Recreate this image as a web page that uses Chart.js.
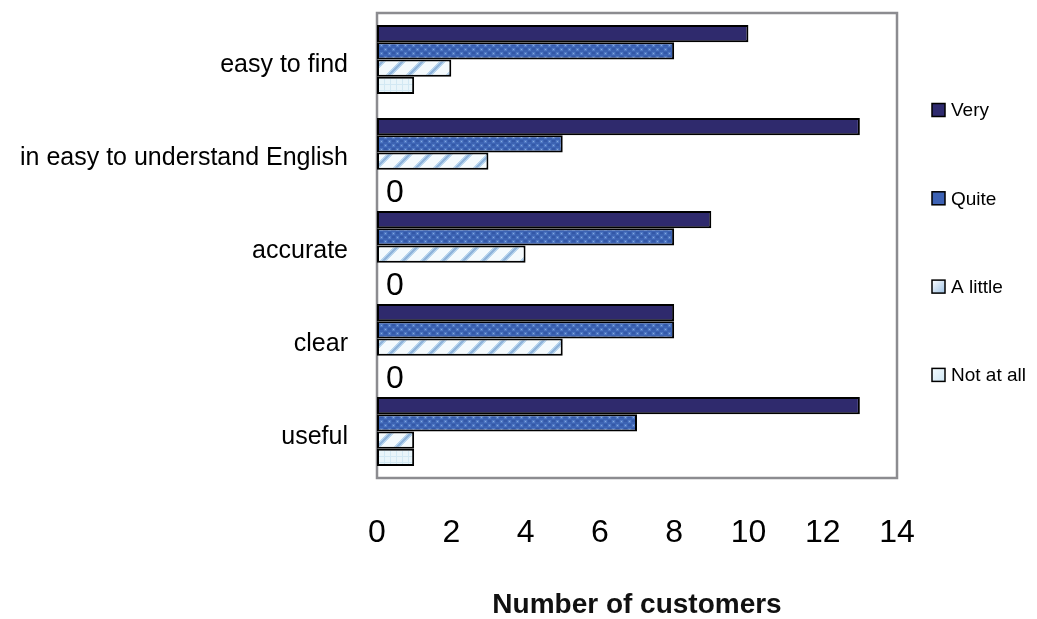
<!DOCTYPE html>
<html>
<head>
<meta charset="utf-8">
<title>Number of customers</title>
<script src="https://cdn.jsdelivr.net/npm/chart.js@4"></script>
<style>
  html, body { margin: 0; padding: 0; background: #ffffff; }
  #wrap { width: 1037px; height: 619px; position: relative; }
</style>
</head>
<body>
<div id="wrap"><canvas id="chart" width="1037" height="619"></canvas></div>
<script>
// Survey answers per statement
const categories = ['easy to find', 'in easy to understand English', 'accurate', 'clear', 'useful'];
const seriesNames = ['Very', 'Quite', 'A little', 'Not at all'];
const veryValues = [10, 13, 9, 8, 13];
const quiteValues = [8, 5, 8, 8, 7];
const littleValues = [2, 3, 4, 5, 1];
const notAtAllValues = [1, 0, 0, 0, 1];
const xTickMin = 0;
const xTickMax = 14;
const xTickStep = 2;

const FONT = "'Liberation Sans', Arial, sans-serif";

// Small repeating tiles used as bar fills
function makePattern(w, h, paint) {
  const c = document.createElement('canvas');
  c.width = w; c.height = h;
  const g = c.getContext('2d');
  paint(g, w, h);
  return g.createPattern(c, 'repeat');
}

const veryFill = '#2f2a6d';
const quiteFill = makePattern(8, 8, (g) => {
  g.fillStyle = '#3c63b3'; g.fillRect(0, 0, 8, 8);
  g.fillStyle = '#5079c4'; g.fillRect(0, 0, 3, 3); g.fillRect(4, 4, 3, 3);
  g.fillStyle = '#86a9e0'; g.fillRect(1, 1, 1, 1); g.fillRect(5, 5, 1, 1);
  g.fillStyle = '#3459a8'; g.fillRect(4, 0, 3, 2); g.fillRect(0, 4, 3, 2);
});
const littleFill = makePattern(20, 20, (g) => {
  g.fillStyle = '#f4fafd'; g.fillRect(0, 0, 20, 20);
  for (let y = 0; y < 20; y++) {
    for (let x = 0; x < 20; x++) {
      const d = (x + y) % 20;
      if (d < 7) {
        g.fillStyle = (d >= 2 && d <= 4) ? '#8fb3da' : '#b9d6ee';
        g.fillRect(x, y, 1, 1);
      }
    }
  }
});
const notAtAllFill = makePattern(6, 6, (g) => {
  g.fillStyle = '#e9f5fa'; g.fillRect(0, 0, 6, 6);
  g.fillStyle = '#d2e8f3'; g.fillRect(0, 0, 1, 6); g.fillRect(0, 0, 6, 1);
});

// Legend swatches
function legendSwatch(ctx, i, x, y, s) {
  if (i === 0) {
    ctx.fillStyle = '#2e2a6e';
  } else if (i === 1) {
    ctx.fillStyle = '#3d62b4';
  } else if (i === 2) {
    const gr = ctx.createLinearGradient(x, y, x + s, y + s);
    gr.addColorStop(0, '#ffffff'); gr.addColorStop(1, '#9cc0e3');
    ctx.fillStyle = gr;
  } else {
    const gr = ctx.createLinearGradient(x, y, x + s, y + s);
    gr.addColorStop(0, '#f4fbfe'); gr.addColorStop(1, '#cfe6f3');
    ctx.fillStyle = gr;
  }
  ctx.fillRect(x, y, s, s);
  ctx.lineWidth = 1.5;
  ctx.strokeStyle = '#000000';
  ctx.strokeRect(x, y, s, s);
}

const plotFrame = {
  id: 'plotFrame',
  beforeDatasetsDraw(chart) {
    const a = chart.chartArea;
    const ctx = chart.ctx;
    ctx.save();
    ctx.strokeStyle = '#8c8c90';
    ctx.lineWidth = 2.5;
    ctx.strokeRect(a.left, a.top, a.right - a.left, a.bottom - a.top);
    ctx.restore();
  }
};

const zeroLabels = {
  id: 'zeroLabels',
  afterDatasetsDraw(chart) {
    const ctx = chart.ctx;
    ctx.save();
    ctx.font = '32px ' + FONT;
    ctx.fillStyle = '#000000';
    ctx.textAlign = 'left';
    ctx.textBaseline = 'middle';
    chart.data.datasets.forEach((ds, i) => {
      const meta = chart.getDatasetMeta(i);
      ds.data.forEach((v, j) => {
        if (v === 0) {
          const el = meta.data[j];
          ctx.fillText(String(v), el.base + 9, el.y + 15);
        }
      });
    });
    ctx.restore();
  }
};

const sideLegend = {
  id: 'sideLegend',
  afterDraw(chart) {
    const ctx = chart.ctx;
    ctx.save();
    ctx.font = '19px ' + FONT;
    ctx.fillStyle = '#000000';
    ctx.textBaseline = 'middle';
    ctx.textAlign = 'left';
    chart.data.datasets.forEach((ds, i) => {
      const cy = 110 + i * 88.3;
      legendSwatch(ctx, i, 932, cy - 6.5, 13);
      ctx.fillStyle = '#000000';
      ctx.fillText(ds.label, 951, cy + 1);
    });
    ctx.restore();
  }
};

const barStyle = { borderColor: '#000000', borderWidth: 2, borderSkipped: false,
  categoryPercentage: 0.742, barPercentage: 1.0 };

new Chart(document.getElementById('chart'), {
  type: 'bar',
  data: {
    labels: categories,
    datasets: [
      Object.assign({ label: seriesNames[0], data: veryValues, backgroundColor: veryFill }, barStyle),
      Object.assign({ label: seriesNames[1], data: quiteValues, backgroundColor: quiteFill }, barStyle),
      Object.assign({ label: seriesNames[2], data: littleValues, backgroundColor: littleFill }, barStyle),
      Object.assign({ label: seriesNames[3], data: notAtAllValues, backgroundColor: notAtAllFill }, barStyle)
    ]
  },
  options: {
    indexAxis: 'y',
    responsive: false,
    animation: false,
    layout: { padding: { top: 13, right: 140, bottom: 0, left: 0 } },
    plugins: {
      legend: { display: false },
      tooltip: { enabled: false }
    },
    scales: {
      x: {
        min: xTickMin,
        max: xTickMax,
        grid: { display: false, drawTicks: false },
        border: { display: false },
        ticks: {
          stepSize: xTickStep,
          padding: 36,
          color: '#000000',
          font: { family: FONT, size: 32 }
        },
        title: {
          display: true,
          text: 'Number of customers',
          color: '#111111',
          padding: { top: 0, bottom: -3 },
          font: { family: FONT, size: 28, weight: 'bold' }
        },
        afterFit(scale) { scale.height = 141; }
      },
      y: {
        grid: { display: false, drawTicks: false },
        border: { display: false },
        ticks: {
          padding: 29,
          labelOffset: 6,
          color: '#000000',
          font: { family: FONT, size: 25 }
        },
        afterFit(scale) {
          scale.width = 377;
          scale.paddingTop = 0;
          scale.paddingBottom = 0;
        }
      }
    }
  },
  plugins: [plotFrame, zeroLabels, sideLegend]
});
</script>
</body>
</html>
